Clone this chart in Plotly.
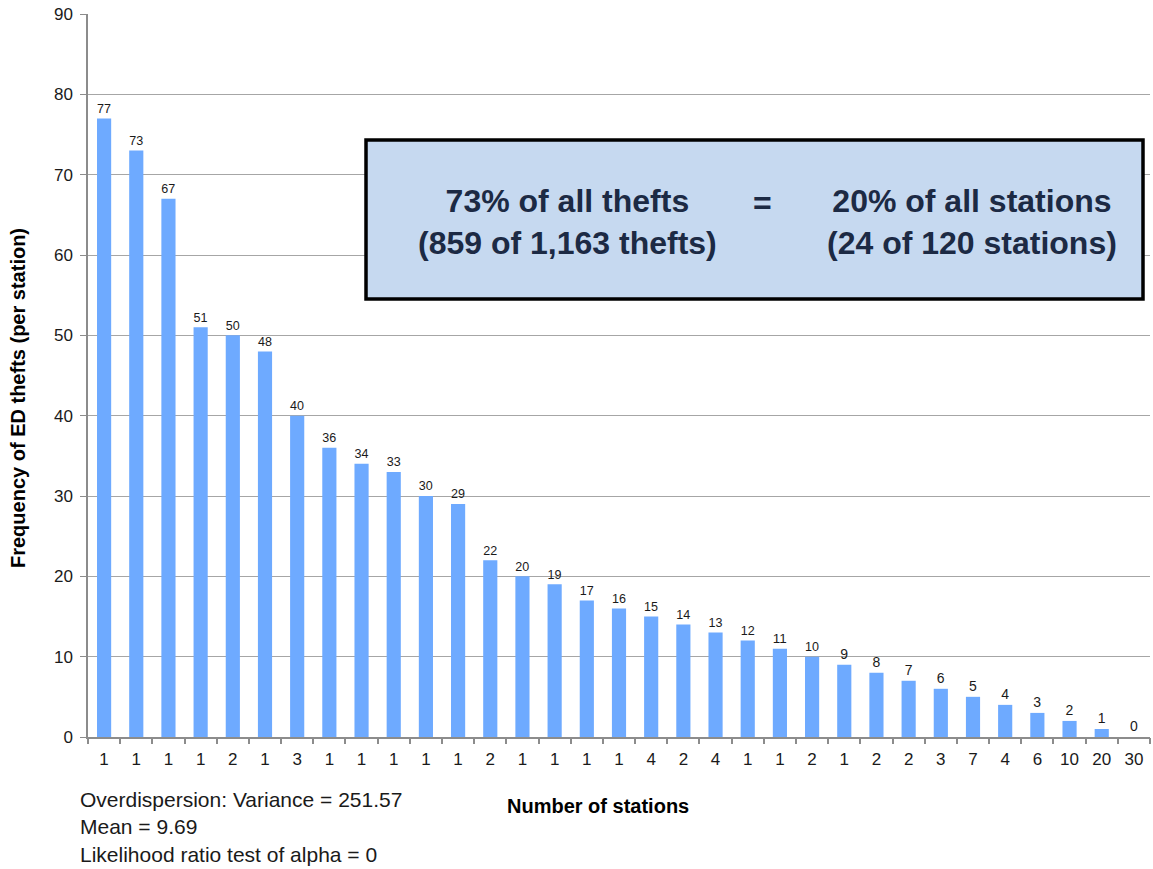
import plotly.graph_objects as go

values = [77, 73, 67, 51, 50, 48, 40, 36, 34, 33, 30, 29, 22, 20, 19, 17, 16, 15,
          14, 13, 12, 11, 10, 9, 8, 7, 6, 5, 4, 3, 2, 1, 0]
station_counts = ["1", "1", "1", "1", "2", "1", "3", "1", "1", "1", "1", "1", "2", "1",
                  "1", "1", "1", "4", "2", "4", "1", "1", "2", "1", "2", "2", "3", "7",
                  "4", "6", "10", "20", "30"]
y_ticks = [0, 10, 20, 30, 40, 50, 60, 70, 80, 90]

n = len(values)
xpos = list(range(n))
FONT = "Liberation Sans, Arial, sans-serif"

W, H = 1153, 869
L, R, T, B = 88, 3, 14, 132
PW, PH = W - L - R, H - T - B


def px_x(p):
    return (p - L) / PW


def px_y(p):
    return (H - B - p) / PH


fig = go.Figure()
fig.add_trace(go.Bar(
    x=xpos, y=values, width=0.44,
    marker=dict(color="#6eaaff", line=dict(width=0)),
    text=[str(v) for v in values], textposition="outside",
    textfont=dict(family=FONT, size=14, color="#1a1a1a"),
    cliponaxis=False, showlegend=False,
))
fig.add_trace(go.Scatter(x=[-0.5, n - 0.5], y=[0, 0], xaxis="x2", mode="markers",
                         marker=dict(opacity=0), showlegend=False, hoverinfo="skip"))

fig.update_layout(
    width=W, height=H,
    margin=dict(l=L, r=R, t=T, b=B),
    paper_bgcolor="white", plot_bgcolor="white",
    font=dict(family=FONT, color="#1a1a1a"),
    xaxis=dict(
        range=[-0.5, n - 0.5], tickvals=xpos, ticktext=station_counts,
        ticks="", showgrid=False, zeroline=False, automargin=False,
        showline=True, linecolor="#8c8c8c", linewidth=1.5,
        tickfont=dict(family=FONT, size=17, color="#1a1a1a"),
        ticklabelstandoff=6,
    ),
    xaxis2=dict(
        range=[-0.5, n - 0.5], overlaying="x", side="bottom", automargin=False,
        tickvals=[i - 0.5 for i in range(n + 1)], showticklabels=False,
        ticks="outside", ticklen=6, tickcolor="#8c8c8c", tickwidth=1.5,
        showgrid=False, zeroline=False, showline=False,
    ),
    yaxis=dict(
        range=[0, 90], tickvals=y_ticks, automargin=False,
        showgrid=True, gridcolor="#a6a6a6", gridwidth=1,
        showline=True, linecolor="#8c8c8c", linewidth=1.5,
        ticks="outside", ticklen=6, tickcolor="#8c8c8c",
        tickfont=dict(family=FONT, size=17, color="#1a1a1a"),
        ticklabelstandoff=4,
        zeroline=False,
    ),
)

fig.add_annotation(xref="paper", yref="paper", x=px_x(18), y=px_y(398),
                   xanchor="center", yanchor="middle", textangle=-90,
                   text="<b>Frequency of ED thefts (per station)</b>", showarrow=False,
                   font=dict(family=FONT, size=20, color="#000000"))

fig.add_annotation(xref="paper", yref="paper", x=px_x(598), y=px_y(806),
                   xanchor="center", yanchor="middle",
                   text="<b>Number of stations</b>", showarrow=False,
                   font=dict(family=FONT, size=20, color="#000000"))

fig.add_annotation(xref="paper", yref="paper", x=px_x(78), y=px_y(786),
                   xanchor="left", yanchor="top", align="left", showarrow=False,
                   text="Overdispersion: Variance = 251.57<br>Mean = 9.69<br>Likelihood ratio test of alpha = 0",
                   font=dict(family=FONT, size=21, color="#1a1a1a"))

# summary box
fig.add_shape(type="rect", xref="paper", yref="paper",
              x0=px_x(366), x1=px_x(1143), y0=px_y(299), y1=px_y(140),
              fillcolor="#c6d9f0", line=dict(color="#000000", width=3.5), layer="above")

box_font = dict(family=FONT, size=32, color="#1c2a44")
fig.add_annotation(xref="paper", yref="paper", x=px_x(567), y=px_y(222),
                   xanchor="center", yanchor="middle",
                   text="<b>73% of all thefts<br>(859 of 1,163 thefts)</b>", showarrow=False,
                   font=box_font, align="center")
fig.add_annotation(xref="paper", yref="paper", x=px_x(762), y=px_y(203),
                   xanchor="center", yanchor="middle",
                   text="<b>=</b>", showarrow=False, font=box_font)
fig.add_annotation(xref="paper", yref="paper", x=px_x(972), y=px_y(222),
                   xanchor="center", yanchor="middle",
                   text="<b>20% of all stations<br>(24 of 120 stations)</b>", showarrow=False,
                   font=box_font, align="center")

fig.write_html("out.html", config={"displayModeBar": False},
               post_script="document.body.style.margin='0';document.body.style.padding='0';document.body.style.overflow='hidden';")
